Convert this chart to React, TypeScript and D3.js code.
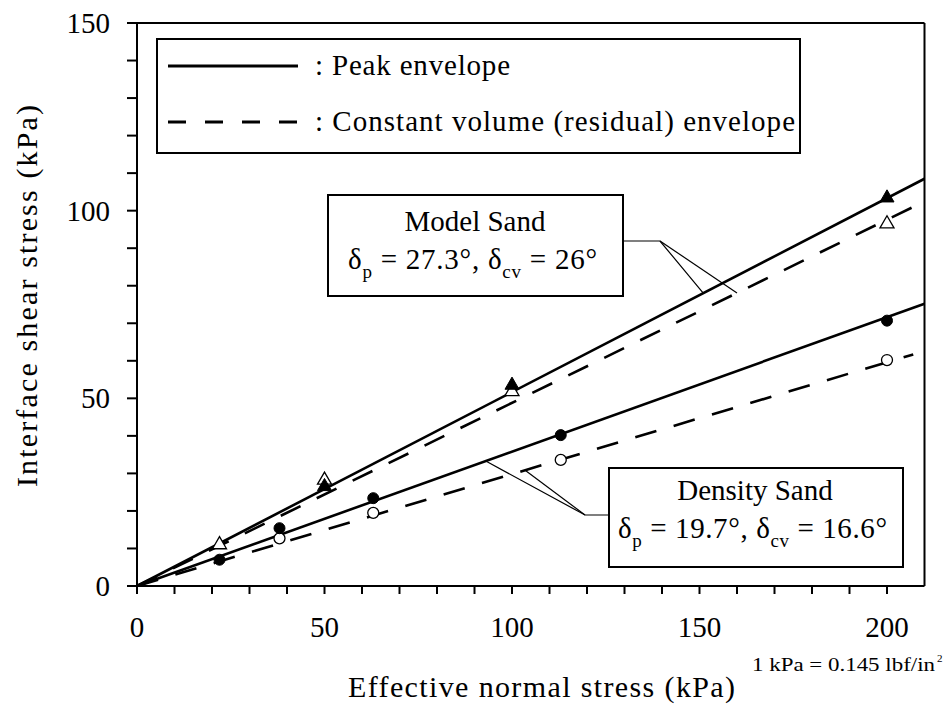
import React from "react";
import * as d3 from "d3";

// ---------- data ----------
const xTicks = [0, 50, 100, 150, 200];
const yTicks = [0, 50, 100, 150];

const modelPeakX = [50, 100, 200];
const modelPeakY = [26.5, 53.5, 103.4];
const modelCvX = [22, 50, 100, 200];
const modelCvY = [11, 28.2, 51.8, 96.5];
const densityPeakX = [22, 38, 63, 113, 200];
const densityPeakY = [7, 15.4, 23.4, 40.2, 70.7];
const densityCvX = [38, 63, 113, 200];
const densityCvY = [12.7, 19.5, 33.6, 60.2];

// envelope end points [x, y]
const modelPeakLine: [number, number][] = [[0, 0], [210, 108.5]];
const modelCvLine: [number, number][] = [[0, 0], [207, 101]];
const densityPeakLine: [number, number][] = [[0, 0], [210, 75.2]];
const densityCvLine: [number, number][] = [[0, 0], [207, 61.7]];

const legendLabels = [": Peak envelope", ": Constant volume (residual) envelope"];

const W = 949;
const H = 706;
const FONT = '"Liberation Serif", "DejaVu Serif", "Times New Roman", Times, serif';
const ts = { fontFamily: FONT };

export default function App() {
  const x = d3.scaleLinear().domain([0, 210]).range([137, 924.5]);
  const y = d3.scaleLinear().domain([0, 150]).range([586, 23]);
  const line = d3
    .line<[number, number]>()
    .x((d) => x(d[0]))
    .y((d) => y(d[1]));

  const minorX = d3.range(0, 201, 10);
  const minorY = d3.range(0, 151, 10);

  const tri = d3.symbol().type(d3.symbolTriangle).size(85)() as string;
  const circ = d3.symbol().type(d3.symbolCircle).size(95)() as string;

  const plotDash = "22,18";
  const lw = 2.6;

  const onLine = (l: [number, number][], xv: number): [number, number] => {
    const s = l[1][1] / l[1][0];
    return [x(xv), y(xv * s)];
  };

  const mA = onLine(modelPeakLine, 151);
  const mB = onLine(modelCvLine, 160);
  const dA = onLine(densityPeakLine, 93);
  const dB = onLine(densityCvLine, 103.5);

  return (
    <svg
      width={W}
      height={H}
      style={{ position: "absolute", left: 0, top: 0, background: "#fff", fontFamily: FONT }}
    >
      <rect x={0} y={0} width={W} height={H} fill="#fff" />

      {/* envelopes */}
      <path d={line(modelPeakLine) as string} stroke="#000" strokeWidth={lw} fill="none" />
      <path d={line(densityPeakLine) as string} stroke="#000" strokeWidth={lw} fill="none" />
      <path d={line(modelCvLine) as string} stroke="#000" strokeWidth={lw} fill="none" strokeDasharray={plotDash} />
      <path d={line(densityCvLine) as string} stroke="#000" strokeWidth={lw} fill="none" strokeDasharray={plotDash} />

      {/* markers */}
      {modelCvX.map((v, i) => (
        <path key={"mc" + i} d={tri} transform={`translate(${x(v)},${y(modelCvY[i])})`} fill="#fff" stroke="#000" strokeWidth={1.3} />
      ))}
      {modelPeakX.map((v, i) => (
        <path key={"mp" + i} d={tri} transform={`translate(${x(v)},${y(modelPeakY[i])})`} fill="#000" stroke="#000" strokeWidth={1} />
      ))}
      {densityCvX.map((v, i) => (
        <path key={"dc" + i} d={circ} transform={`translate(${x(v)},${y(densityCvY[i])})`} fill="#fff" stroke="#000" strokeWidth={1.3} />
      ))}
      {densityPeakX.map((v, i) => (
        <path key={"dp" + i} d={circ} transform={`translate(${x(v)},${y(densityPeakY[i])})`} fill="#000" stroke="#000" strokeWidth={1} />
      ))}

      {/* frame & axes */}
      <line x1={x(0)} x2={x(210)} y1={y(150)} y2={y(150)} stroke="#000" strokeWidth={2} />
      <line x1={x(210)} x2={x(210)} y1={y(150)} y2={y(0)} stroke="#000" strokeWidth={2} />
      <line x1={x(0)} x2={x(210)} y1={y(0)} y2={y(0)} stroke="#000" strokeWidth={2} />
      <line x1={x(0)} x2={x(0)} y1={y(150)} y2={y(0)} stroke="#000" strokeWidth={2} />

      {minorX.map((v) => (
        <line key={"tx" + v} x1={x(v)} x2={x(v)} y1={y(0)} y2={y(0) + 8} stroke="#000" strokeWidth={2} />
      ))}
      {minorY.map((v) => (
        <line key={"ty" + v} x1={x(0) - 10} x2={x(0)} y1={y(v)} y2={y(v)} stroke="#000" strokeWidth={2} />
      ))}

      {xTicks.map((v) => (
        <text key={"lx" + v} style={ts} x={x(v)} y={637} textAnchor="middle" fontSize={29} fill="#000">
          {v}
        </text>
      ))}
      {yTicks.map((v) => (
        <text key={"ly" + v} style={ts} x={110} y={y(v)} dy="0.35em" textAnchor="end" fontSize={29} fill="#000">
          {v}
        </text>
      ))}

      {/* axis titles */}
      <text style={ts} x={348} y={697} fontSize={30} textLength={387} lengthAdjust="spacing" fill="#000">
        Effective normal stress (kPa)
      </text>
      <text style={ts} transform="translate(37,487) rotate(-90)" x={0} y={0} fontSize={30} textLength={382} lengthAdjust="spacing" fill="#000">
        Interface shear stress (kPa)
      </text>
      <text style={ts} x={752} y={671} fontSize={18} fill="#000" textLength={183} lengthAdjust="spacingAndGlyphs">
        1 kPa = 0.145 lbf/in
      </text>
      <text style={ts} x={937} y={662} fontSize={11} fill="#000">
        2
      </text>

      {/* legend */}
      <rect x={157} y={39} width={643} height={114} fill="#fff" stroke="#000" strokeWidth={2} />
      <line x1={168} x2={298} y1={66} y2={66} stroke="#000" strokeWidth={2.8} />
      <line x1={168} x2={298} y1={122} y2={122} stroke="#000" strokeWidth={2.8} strokeDasharray="18,19" />
      <text style={ts} x={315} y={75} fontSize={29} fill="#000" textLength={195} lengthAdjust="spacing">
        {legendLabels[0]}
      </text>
      <text style={ts} x={315} y={131} fontSize={29} fill="#000" textLength={480} lengthAdjust="spacing">
        {legendLabels[1]}
      </text>

      {/* Model sand annotation */}
      <rect x={328} y={195} width={295} height={101} fill="#fff" stroke="#000" strokeWidth={2} />
      <polyline points={`623,241 660,241 ${mA[0]},${mA[1]}`} fill="none" stroke="#000" strokeWidth={1.2} />
      <line x1={660} y1={241} x2={mB[0]} y2={mB[1]} stroke="#000" strokeWidth={1.2} />
      <text style={ts} x={475} y={231} fontSize={29} textAnchor="middle" fill="#000">
        Model Sand
      </text>
      <text style={ts} x={348} y={269} fontSize={29} fill="#000" textLength={249} lengthAdjust="spacing">
        δ<tspan fontSize={19} dy={9}>p</tspan>
        <tspan dy={-9}> = 27.3°, δ</tspan>
        <tspan fontSize={19} dy={9}>cv</tspan>
        <tspan dy={-9}> = 26°</tspan>
      </text>

      {/* Density sand annotation */}
      <rect x={609} y={468} width={294} height={99} fill="#fff" stroke="#000" strokeWidth={2} />
      <polyline points={`609,515 585,515 ${dA[0]},${dA[1]}`} fill="none" stroke="#000" strokeWidth={1.2} />
      <line x1={585} y1={515} x2={dB[0]} y2={dB[1]} stroke="#000" strokeWidth={1.2} />
      <text style={ts} x={755} y={500} fontSize={29} textAnchor="middle" fill="#000">
        Density Sand
      </text>
      <text style={ts} x={618} y={538} fontSize={29} fill="#000" textLength={269} lengthAdjust="spacing">
        δ<tspan fontSize={19} dy={9}>p</tspan>
        <tspan dy={-9}> = 19.7°, δ</tspan>
        <tspan fontSize={19} dy={9}>cv</tspan>
        <tspan dy={-9}> = 16.6°</tspan>
      </text>
    </svg>
  );
}
